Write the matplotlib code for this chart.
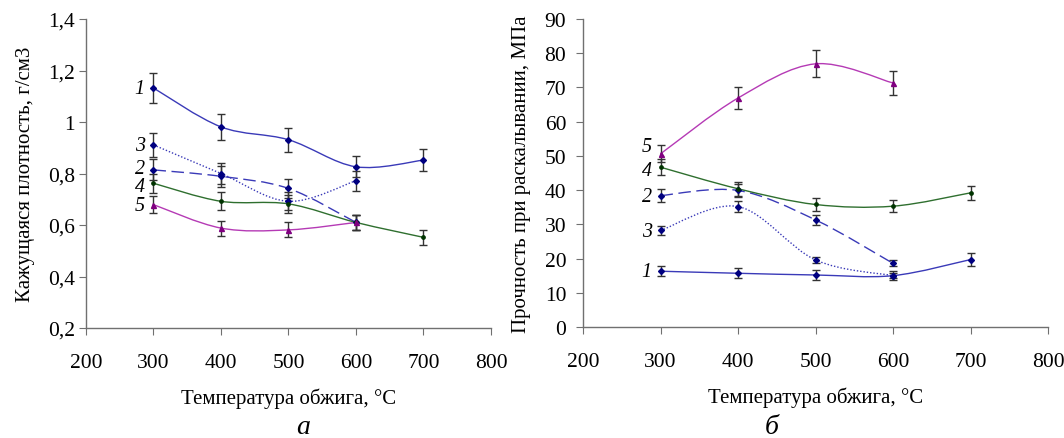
import numpy as np
import matplotlib
matplotlib.use('Agg')
import matplotlib.pyplot as plt
from matplotlib.path import Path
from matplotlib.patches import PathPatch

plt.rcParams['font.family'] = ['Liberation Serif', 'DejaVu Serif']

# Temperature of firing, °C
temps = [300, 400, 500, 600, 700]

# Panel a: apparent density, g/cm3
dens_1 = [1.132, 0.981, 0.931, 0.826, 0.852]
dens_2 = [0.814, 0.789, 0.742, 0.610]
dens_3 = [0.911, 0.800, 0.692, 0.772]
dens_4 = [0.762, 0.692, 0.682, 0.610, 0.552]
dens_5 = [0.679, 0.588, 0.581, 0.610]
dens_err_1 = [0.057, 0.049, 0.047, 0.041, 0.043]
dens_err_2 = [0.041, 0.040, 0.037, 0.030]
dens_err_3 = [0.046, 0.040, 0.035, 0.039]
dens_err_4 = [0.038, 0.035, 0.034, 0.030, 0.028]
dens_err_5 = [0.034, 0.029, 0.029, 0.030]

# Panel b: splitting strength, MPa
str_1 = [16.3, 15.7, 15.2, 15.0, 19.7]
str_2 = [38.4, 39.9, 31.3, 18.6]
str_3 = [28.2, 35.2, 19.6, 15.0]
str_4 = [46.7, 40.4, 35.8, 35.3, 39.2]
str_5 = [50.6, 66.9, 76.9, 71.3]
str_err_1 = [1.4, 1.5, 1.4, 1.3, 1.9]
str_err_2 = [1.8, 2.0, 1.5, 0.9]
str_err_3 = [1.4, 1.7, 1.0, 0.8]
str_err_4 = [2.3, 2.0, 1.8, 1.8, 2.0]
str_err_5 = [2.5, 3.3, 3.9, 3.6]

labels = ['1', '2', '3', '4', '5']

styles = [
    dict(line='#3a3ab8', mk='#000080', ls='-', marker='D', ms=3.0),
    dict(line='#3a3ab8', mk='#000080', ls=(0, (9, 4)), marker='D', ms=3.0),
    dict(line='#3a3ab8', mk='#000080', ls=(0, (1.0, 1.4)), marker='D', ms=3.0),
    dict(line='#2f6f2f', mk='#003300', ls='-', marker='o', ms=2.4),
    dict(line='#b53ab5', mk='#800080', ls='-', marker='^', ms=3.6),
]


def smooth_path(xs, ys):
    # Excel-like smoothed line: Catmull-Rom converted to cubic Bezier segments
    pts = np.column_stack([xs, ys]).astype(float)
    n = len(pts)
    verts = [pts[0]]
    codes = [Path.MOVETO]
    for i in range(n - 1):
        p0 = pts[i - 1] if i > 0 else pts[i]
        p1 = pts[i]
        p2 = pts[i + 1]
        p3 = pts[i + 2] if i + 2 < n else pts[i + 1]
        c1 = p1 + (p2 - p0) / 6.0
        c2 = p2 - (p3 - p1) / 6.0
        verts += [c1, c2, p2]
        codes += [Path.CURVE4] * 3
    return Path(verts, codes)


def draw_panel(ax, series, errs, ylim, yticks, yfmt, ylabel, label_pos, letter,
               letter_x, ypad, ylabelpad):
    for k, (ys, es) in enumerate(zip(series, errs)):
        st = styles[k]
        xs = temps[:len(ys)]
        patch = PathPatch(smooth_path(xs, ys), fill=False, edgecolor=st['line'],
                          lw=1.0, ls=st['ls'], zorder=2)
        ax.add_patch(patch)
        ax.errorbar(xs, ys, yerr=es, fmt='none', ecolor='#333333', elinewidth=1.0,
                    capsize=3, capthick=1.0, zorder=3)
        ax.plot(xs, ys, ls='none', marker=st['marker'], ms=st['ms'],
                color=st['mk'], zorder=4)
    for k, yv in enumerate(label_pos):
        ax.annotate(labels[k], xy=(temps[0], yv), xytext=(-10, 0),
                    textcoords='offset points', ha='center', va='center',
                    fontsize=14.5, fontstyle='italic')
    ax.set_xlim(200, 800)
    ax.set_ylim(*ylim)
    ax.set_xticks(range(200, 801, 100))
    ax.set_yticks(yticks)
    ax.set_yticklabels([yfmt(v) for v in yticks])
    for s in ['top', 'right']:
        ax.spines[s].set_visible(False)
    for s in ['left', 'bottom']:
        ax.spines[s].set_color('#707070')
        ax.spines[s].set_linewidth(1.0)
    ax.tick_params(axis='both', direction='out', length=5, color='#707070',
                   labelsize=15.5)
    ax.tick_params(axis='x', pad=13)
    ax.tick_params(axis='y', pad=ypad)
    ax.set_xlabel('Температура обжига, °C', fontsize=15, labelpad=11)
    ax.set_ylabel(ylabel, fontsize=15, labelpad=ylabelpad)
    ax.figure.text(letter_x / 1064, 5 / 439, letter, ha='center',
                   va='baseline', fontsize=20, fontstyle='italic')


fig = plt.figure(figsize=(10.64, 4.39), dpi=100)
ax1 = fig.add_axes([86 / 1064, 1 - 329 / 439, 405 / 1064, 309 / 439])
ax2 = fig.add_axes([583 / 1064, 1 - 328 / 439, 465 / 1064, 308 / 439])

draw_panel(ax1,
           [dens_1, dens_2, dens_3, dens_4, dens_5],
           [dens_err_1, dens_err_2, dens_err_3, dens_err_4, dens_err_5],
           (0.2, 1.4), [0.2, 0.4, 0.6, 0.8, 1.0, 1.2, 1.4],
           lambda v: ('%g' % round(v, 1)).replace('.', ','),
           'Кажущаяся плотность, г/см3',
           [1.13, 0.82, 0.91, 0.75, 0.675], 'а', 303, 3, 9)

draw_panel(ax2,
           [str_1, str_2, str_3, str_4, str_5],
           [str_err_1, str_err_2, str_err_3, str_err_4, str_err_5],
           (0, 90), list(range(0, 91, 10)),
           lambda v: '%d' % v,
           'Прочность при раскалывании, МПа',
           [16.3, 38.2, 28.0, 45.7, 52.7], 'б', 772, 7, 10)

fig.savefig('out.png', dpi=100)
